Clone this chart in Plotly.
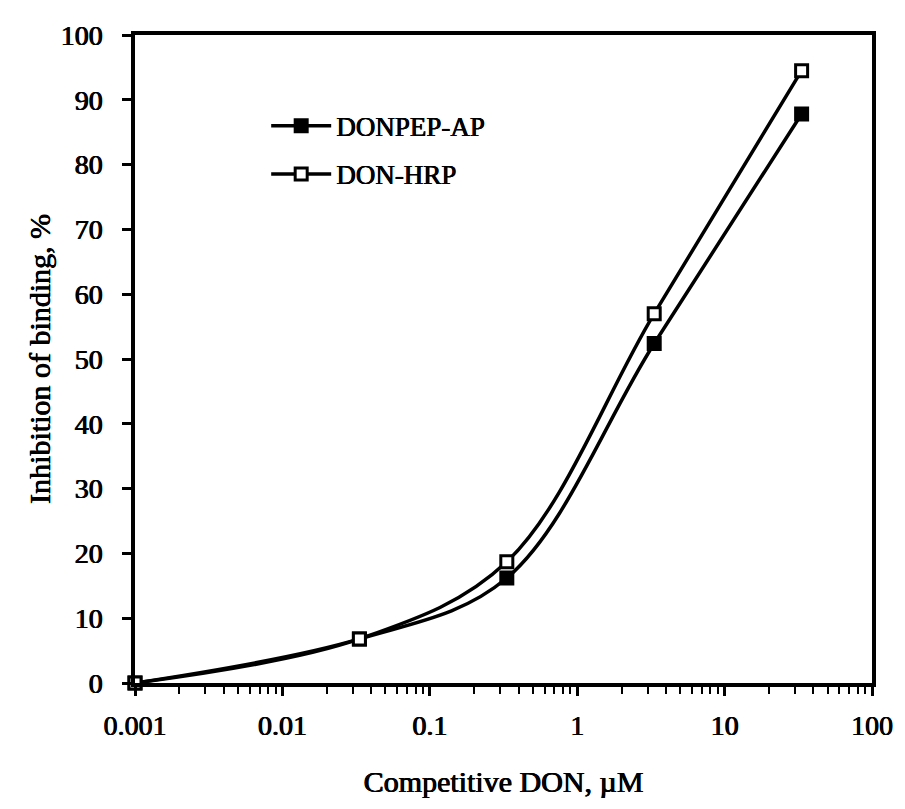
import plotly.graph_objects as go

conc = [0.001, 0.0333, 0.333, 3.33, 33.3]
donpep_ap = [0, 6.8, 16.2, 52.4, 87.8]
don_hrp = [0, 6.8, 18.7, 57.0, 94.5]

x_tickvals = [0.001, 0.01, 0.1, 1, 10, 100]
x_ticktext = ["0.001", "0.01", "0.1", "1", "10", "100"]
x_minor = [m * d for d in [0.001, 0.01, 0.1, 1, 10] for m in range(2, 10)]
y_tickvals = list(range(0, 101, 10))

FONT = "Liberation Serif, Times New Roman, serif"
SH = "0.6px 0px 0px black, -0.3px 0px 0px black"

fig = go.Figure()
fig.add_trace(go.Scatter(
    x=conc, y=donpep_ap, name="DONPEP-AP", legendgroup="a",
    mode="lines+markers", cliponaxis=False,
    line=dict(color="black", width=3.5, shape="spline", smoothing=1),
    marker=dict(symbol="square", size=12, color="black", line=dict(color="black", width=3)),
))
fig.add_trace(go.Scatter(
    x=conc, y=don_hrp, name="DON-HRP", legendgroup="b",
    mode="lines+markers", cliponaxis=False,
    line=dict(color="black", width=3.5, shape="spline", smoothing=1),
    marker=dict(symbol="square", size=12, color="white", line=dict(color="black", width=3)),
))

# page body has an 8px default margin, so the figure is sized/offset to compensate
fig.update_layout(
    width=897, height=801,
    margin=dict(l=127, r=32, t=16, b=126),
    paper_bgcolor="white", plot_bgcolor="white",
    font=dict(family=FONT, size=28, color="black", shadow=SH),
    legend=dict(x=0.178, y=0.897, xanchor="left", yanchor="top",
                bgcolor="rgba(0,0,0,0)", tracegroupgap=10, itemwidth=60,
                font=dict(family=FONT, size=27, color="black", shadow=SH)),
    showlegend=True,
)
fig.update_xaxes(
    type="log", range=[-3, 2],
    tickvals=x_tickvals, ticktext=x_ticktext,
    ticks="outside", ticklen=9, tickwidth=2.5, tickcolor="black",
    minor=dict(tickvals=x_minor, ticks="outside", ticklen=7, tickwidth=2, tickcolor="black", showgrid=False),
    tickfont=dict(family=FONT, size=28, shadow=SH),
    ticklabelstandoff=6,
    showline=True, linecolor="black", linewidth=3.5, mirror=True,
    showgrid=False, zeroline=False,
    title=dict(text="Competitive DON, µM", font=dict(family=FONT, size=30, shadow=SH), standoff=32),
)
fig.update_yaxes(
    range=[0, 100], tickvals=y_tickvals,
    ticks="outside", ticklen=9, tickwidth=2.5, tickcolor="black",
    tickfont=dict(family=FONT, size=28, shadow=SH),
    ticklabelstandoff=14,
    showline=True, linecolor="black", linewidth=3.5, mirror=True,
    showgrid=False, zeroline=False,
    title=dict(text="Inhibition of binding, %", font=dict(family=FONT, size=30, shadow=SH), standoff=2),
)

fig.write_html("out.html")
